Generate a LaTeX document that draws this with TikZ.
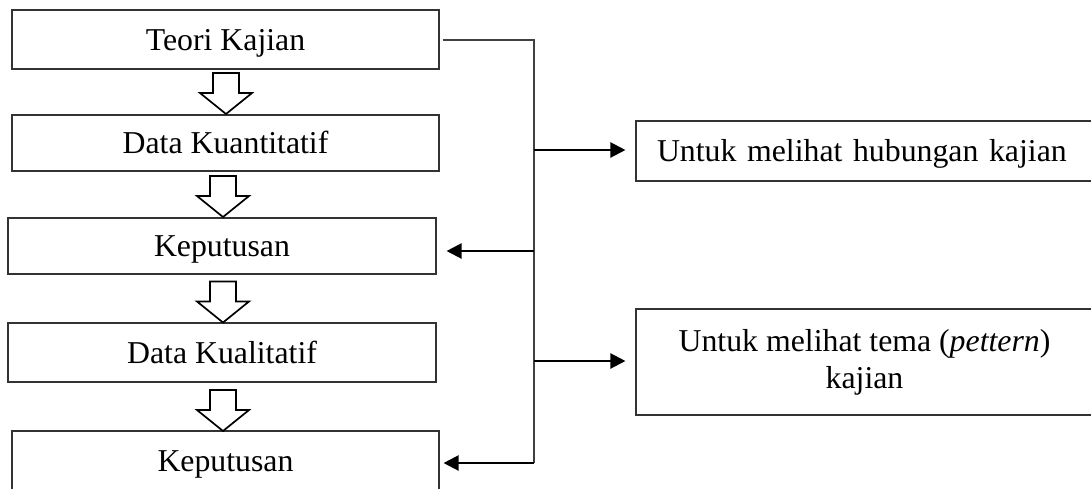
\documentclass[tikz,border=0pt]{standalone}
\usepackage{fontspec}
\setmainfont{Liberation Serif}
\usetikzlibrary{arrows.meta}
\begin{document}
\begin{tikzpicture}[x=1pt,y=-1pt,
  boxbase/.style={draw=black!80, line width=1.1pt, rectangle, inner sep=0pt,
    font=\fontsize{31.8}{37}\selectfont},
  box/.style={boxbase, text height=21pt, text depth=0pt},
  conn/.style={draw=black!75, line width=1.1pt},
  arr/.style={draw=black, line width=2.2pt, -{Triangle[length=15pt,width=15pt]}},
  holarrow/.pic={\draw[line width=1.7pt, fill=white, line join=miter]
    (-13,0) -- (13,0) -- (13,20) -- (26,20) -- (0,41) -- (-26,20) -- (-13,20) -- cycle;}
]
\useasboundingbox (0,0) rectangle (1091,488);

% left column
\node[box, minimum width=427pt, minimum height=59pt] (b1) at (225.5,39.5) {Teori Kajian};
\node[box, minimum width=427pt, minimum height=56pt] (b2) at (225.5,143) {Data Kuantitatif};
\node[box, minimum width=428pt, minimum height=56pt] (b3) at (222,246) {Keputusan};
\node[box, minimum width=428pt, minimum height=59pt] (b4) at (222,352.5) {Data Kualitatif};
\node[box, minimum width=427pt, minimum height=59pt] (b5) at (225.5,460.5) {Keputusan};

% right column
\node[box, minimum width=457pt, minimum height=60pt, inner xsep=21pt,
      text width=415pt, align=left] (r1) at (864.5,151) {Untuk melihat hubungan kajian};
\node[boxbase, minimum width=457pt, minimum height=106pt, align=center] (r2) at (864.5,362)
  {Untuk melihat tema (\textit{pettern})\\kajian};

% hollow arrows
\pic at (226,73) {holarrow};
\pic at (223,176) {holarrow};
\pic at (223,281.5) {holarrow};
\pic at (223,390) {holarrow};

% connectors
\coordinate (jt) at (534,40);
\coordinate (jb) at (534,463);
\draw[conn] (b1.east) ++(3,0.5) -- (jt) -- (jb);

\coordinate (r1arr) at ([xshift=-10pt,yshift=1pt]r1.west);
\coordinate (r2arr) at ([xshift=-10pt,yshift=1pt]r2.west);
\coordinate (b3arr) at ([xshift=10pt,yshift=-5pt]b3.east);
\coordinate (b5arr) at ([xshift=4pt,yshift=-2.5pt]b5.east);

\draw[arr] (jt |- r1arr) -- (r1arr);
\draw[arr] (jt |- r2arr) -- (r2arr);
\draw[arr] (jt |- b3arr) -- (b3arr);
\draw[arr] (jb) -- (b5arr);
\end{tikzpicture}
\end{document}
